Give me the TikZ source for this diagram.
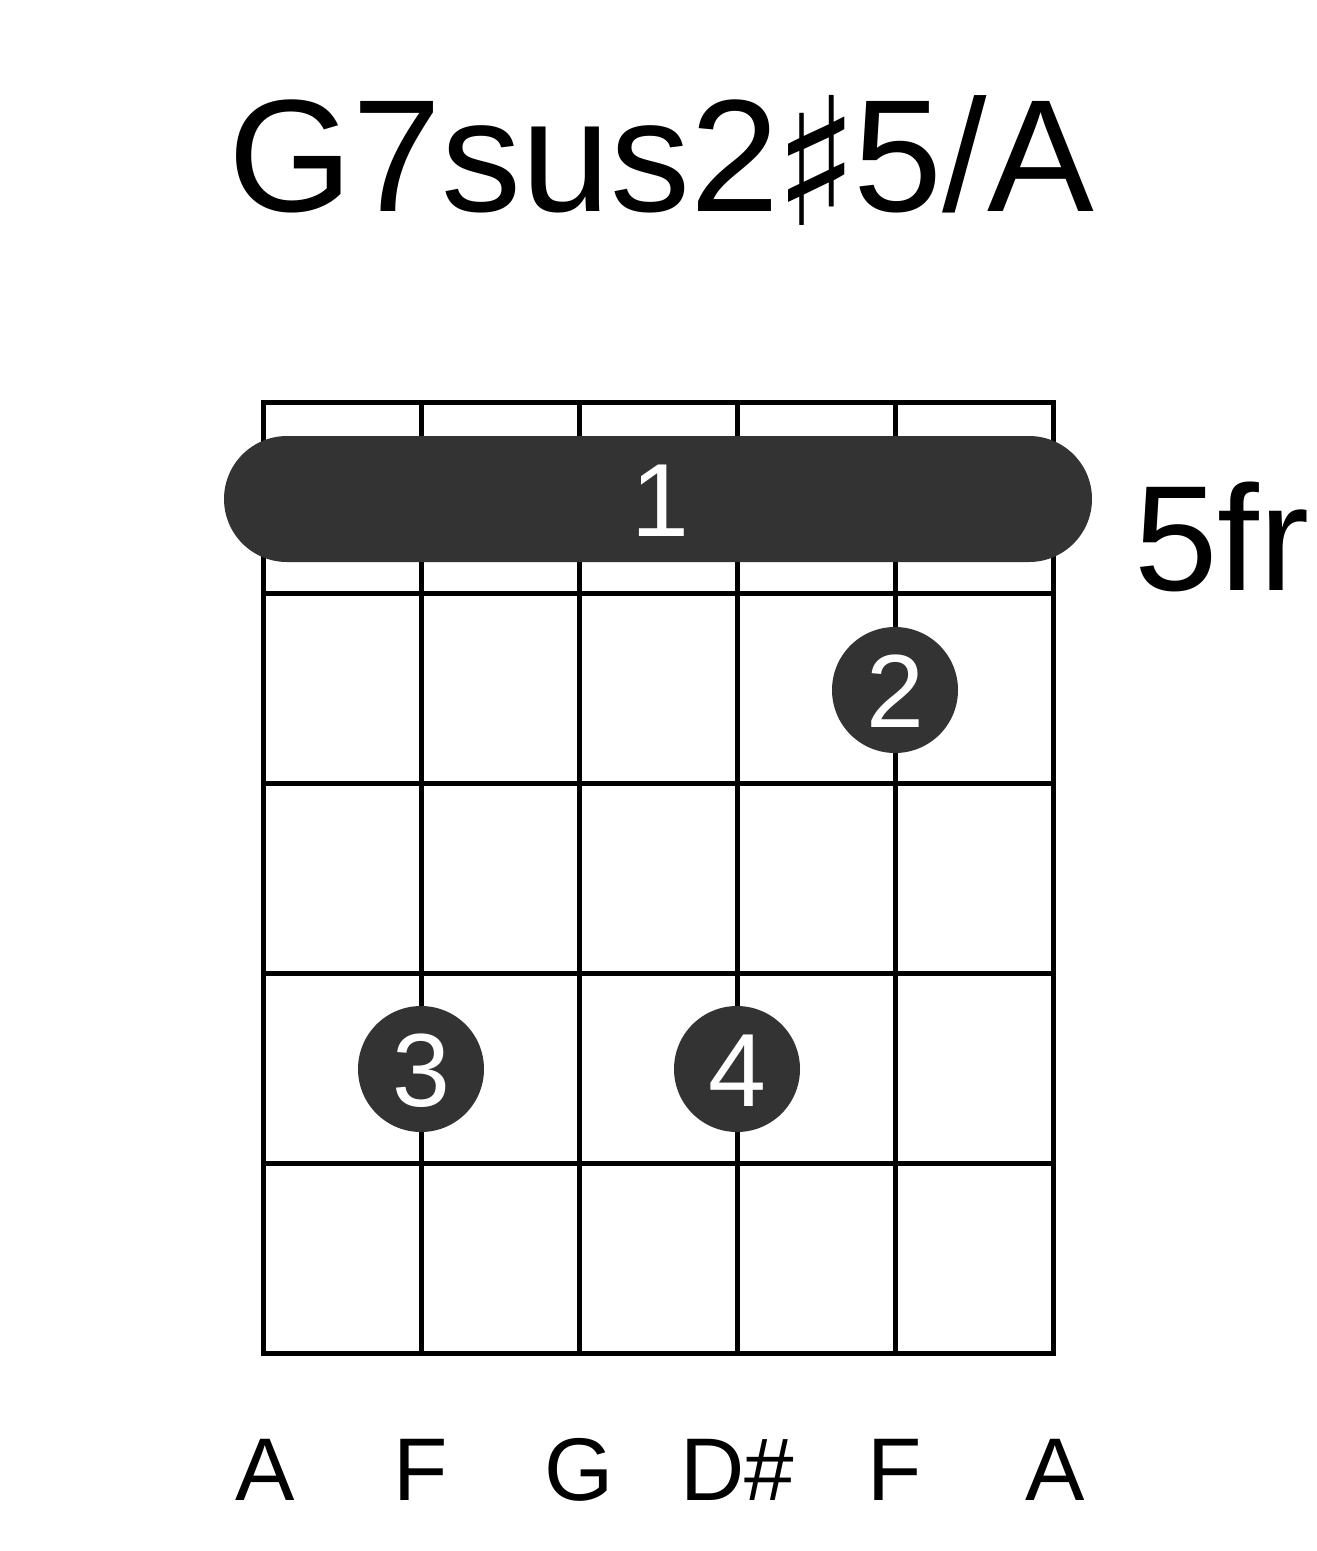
\documentclass[tikz,border=0pt]{standalone}
\usepackage{fontspec}
\setmainfont{Liberation Sans}
\newfontfamily\symfont{DejaVu Sans}
\usetikzlibrary{shapes.misc}
\definecolor{dotgray}{HTML}{333333}
\begin{document}
\begin{tikzpicture}[x=1pt,y=-1pt,
  gridline/.style={line width=5pt,black},
  fingerdot/.style={circle,fill=dotgray,minimum size=126pt,inner sep=0pt},
  dotlabel/.style={text=white,font=\fontsize{104}{104}\selectfont,anchor=base,inner sep=0pt},
  notelabel/.style={font=\fontsize{89}{89}\selectfont,anchor=base,inner sep=0pt},
]
\useasboundingbox (0,0) rectangle (1317,1551);
% grid
\foreach \x in {263,421,579,737,895,1053}
  \draw[gridline] (\x,402) -- (\x,1353);
\foreach \y in {402,593,783,973,1163,1353}
  \draw[gridline,line cap=rect] (263,\y) -- (1053,\y);
% title
\node[font=\fontsize{160}{160}\selectfont,anchor=base,inner sep=0pt] (title) at (661,211) {G7sus2\kern-6pt{\symfont\fontsize{178}{178}\selectfont\raisebox{-14pt}{♯}}\kern-6pt5/A};
% barre
\node[rounded rectangle,fill=dotgray,minimum width=868pt,minimum height=126pt,inner sep=0pt] (barre) at (658,499) {};
\node[dotlabel] (barrelbl) at (660,536) {1};
\node[font=\fontsize{150}{150}\selectfont,anchor=base west,inner sep=0pt] (fret) at (1134,590) {5fr};
% dots
\node[fingerdot] (d2) at (895,690) {};
\node[dotlabel] (l2) at (895,727) {2};
\node[fingerdot] (d3) at (421,1069) {};
\node[dotlabel] (l3) at (421,1106) {3};
\node[fingerdot] (d4) at (737,1069) {};
\node[dotlabel] (l4) at (737,1106) {4};
% notes
\node[notelabel] (n1) at (265,1500) {A};
\node[notelabel] (n2) at (421,1500) {F};
\node[notelabel] (n3) at (579,1500) {G};
\node[notelabel] (n4) at (737,1500) {D\#};
\node[notelabel] (n5) at (895,1500) {F};
\node[notelabel] (n6) at (1055,1500) {A};
\end{tikzpicture}
\end{document}
